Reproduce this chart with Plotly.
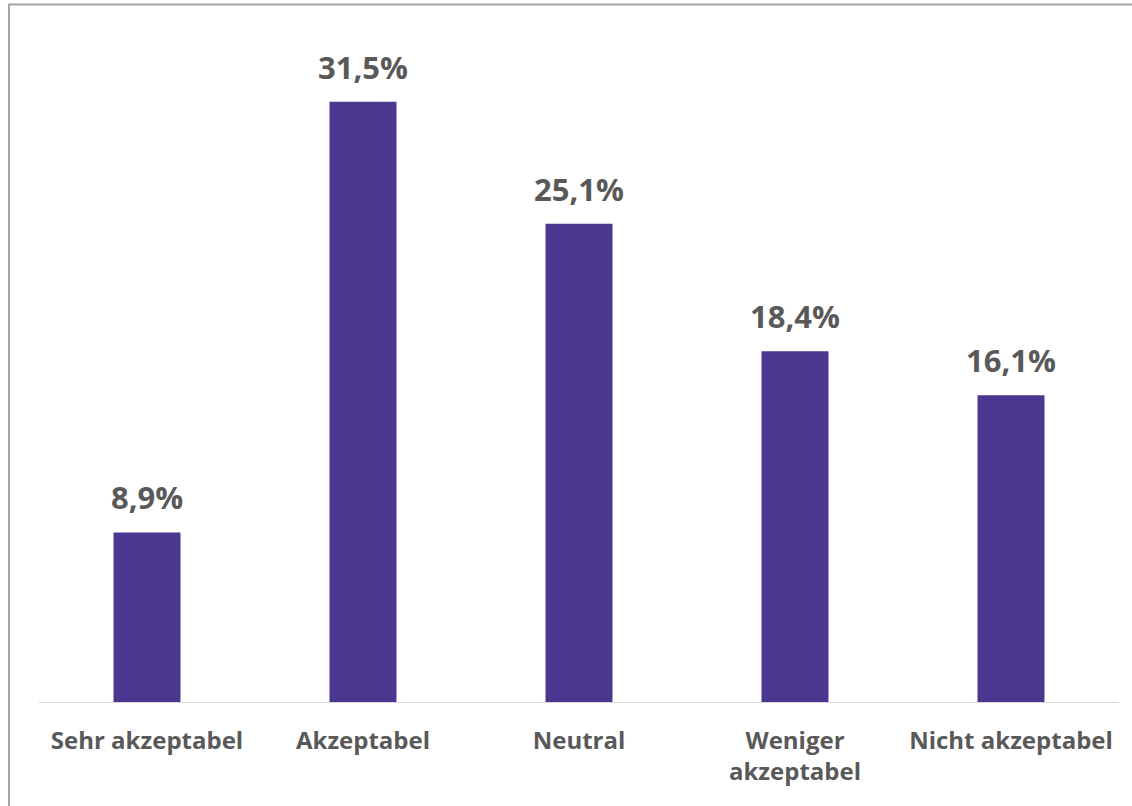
import plotly.graph_objects as go

categories = ["Sehr akzeptabel", "Akzeptabel", "Neutral", "Weniger<br>akzeptabel", "Nicht akzeptabel"]
shares = [8.9, 31.5, 25.1, 18.4, 16.1]

W, H = 1132, 806
ml, mr, mt, mb = 39, 13, 35, 104
pw, ph = W - ml - mr, H - mt - mb
FONT = "Open Sans"
GREY = "#595959"

def px_x(x):
    return (x - ml) / pw

def px_y(y):
    return (H - mb - y) / ph

fig = go.Figure(
    go.Bar(
        x=categories,
        y=shares,
        width=0.31,
        marker=dict(color="#4B3790", line=dict(width=0)),
        hoverinfo="skip",
    )
)

# value labels above each bar
for cat, val in zip(categories, shares):
    fig.add_annotation(
        x=cat,
        y=val,
        text=f"{val:.1f}%".replace(".", ","),
        showarrow=False,
        xanchor="center",
        yanchor="bottom",
        yshift=12,
        font=dict(family=FONT, size=31, color=GREY, weight="bold"),
    )

fig.update_layout(
    width=W,
    height=H,
    margin=dict(l=ml, r=mr, t=mt, b=mb),
    paper_bgcolor="white",
    plot_bgcolor="white",
    showlegend=False,
    xaxis=dict(
        showline=True,
        linecolor="#D9D9D9",
        linewidth=1,
        ticks="",
        showgrid=False,
        tickfont=dict(family=FONT, size=24, color=GREY, weight="bold"),
        ticklabelstandoff=17,
    ),
    yaxis=dict(
        range=[0, 35],
        visible=False,
        showgrid=False,
        zeroline=False,
    ),
    shapes=[
        dict(
            type="rect",
            xref="paper",
            yref="paper",
            x0=px_x(9),
            x1=px_x(W + 10),
            y0=px_y(H + 10),
            y1=px_y(4.5),
            line=dict(color="#A6A6A6", width=2),
            fillcolor="rgba(0,0,0,0)",
            layer="below",
        )
    ],
)

fig.write_html("out.html")
